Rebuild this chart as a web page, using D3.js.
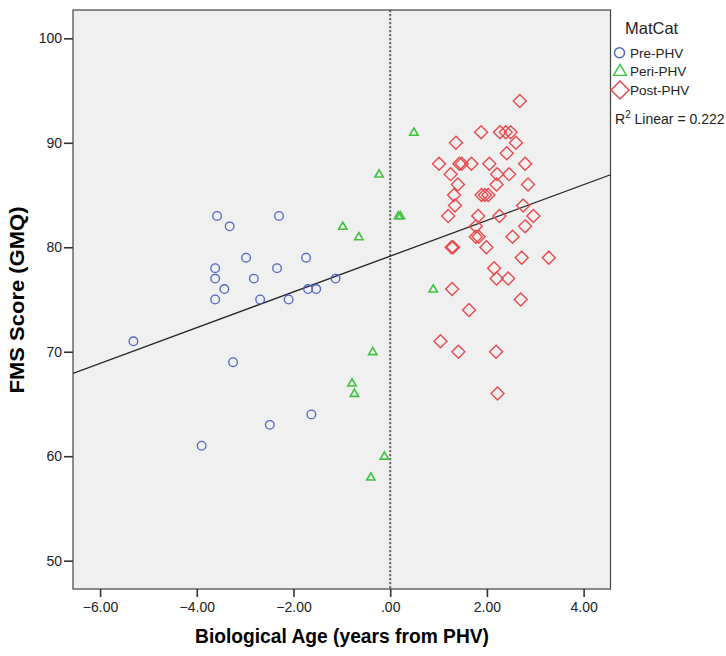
<!DOCTYPE html>
<html><head><meta charset="utf-8">
<script src="https://cdn.jsdelivr.net/npm/d3@7"></script>
<style>
body{margin:0;background:#fff;}
svg{display:block;font-family:"Liberation Sans",Arial,sans-serif;}
</style></head>
<body><svg id="c" width="726" height="656"></svg>
<script>
// ---- data ----
const preX  = [-3.58,-3.32,-2.30,-2.98,-1.74,-3.62,-2.34,-3.62,-2.82,-1.13,-3.43,-1.70,-1.53,-3.62,-2.69,-2.10,-5.31,-3.25,-1.63,-2.49,-3.90];
const preY  = [83,82,83,79,79,78,78,77,77,77,76,76,76,75,75,75,71,69,64,63,61];
const periX = [-0.23,-0.98,-0.65,0.17,0.21,0.89,-0.36,-0.79,-0.74,-0.12,-0.40,0.49];
const periY = [87,82,81,83,83,76,70,67,66,60,58,91];
const postX = [2.68,1.88,2.27,2.39,2.49,1.36,2.60,2.41,1.01,1.43,1.48,1.68,2.05,2.79,1.25,2.21,2.46,1.40,2.20,2.85,1.32,1.89,1.96,2.03,1.34,2.75,1.20,1.82,2.26,2.96,1.77,2.79,1.77,1.83,2.53,1.27,1.30,1.99,2.72,3.28,2.15,2.20,2.44,1.28,2.70,1.63,1.04,1.41,2.19,2.22];
const postY = [94,91,91,91,91,90,90,89,88,88,88,88,88,88,87,87,87,86,86,86,85,85,85,85,84,84,83,83,83,83,82,82,81,81,81,80,80,80,79,79,78,77,77,76,75,74,71,70,70,66];
const fitIntercept = 79.15, fitSlope = 1.71;
const xTicks = [-6,-4,-2,0,2,4];
const yTicks = [50,60,70,80,90,100];
const legendLabels = ["Pre-PHV","Peri-PHV","Post-PHV"];
const rSquared = "0.222";

const svg = d3.select("#c");
const L=73, R=610.5, T=10, B=589;
const x = d3.scaleLinear().domain([-6.56,4.556]).range([L,R]);
const y = d3.scaleLinear().domain([47.29,102.71]).range([B,T]);

svg.append("rect").attr("x",L).attr("y",T).attr("width",R-L).attr("height",B-T).attr("fill","#f0f0f0");

svg.append("defs").append("clipPath").attr("id","clip").append("rect")
  .attr("x",L).attr("y",T).attr("width",R-L).attr("height",B-T);
const g = svg.append("g").attr("clip-path","url(#clip)");

// reference line at 0
g.append("line").attr("x1",x(0)).attr("x2",x(0)).attr("y1",T).attr("y2",B)
  .attr("stroke","#666").attr("stroke-width",2).attr("stroke-dasharray","2.2,1.8");

// fit line
const xd = x.domain();
g.append("line").attr("x1",x(xd[0])).attr("y1",y(fitIntercept+fitSlope*xd[0]))
  .attr("x2",x(xd[1])).attr("y2",y(fitIntercept+fitSlope*xd[1]))
  .attr("stroke","#222").attr("stroke-width",1.3);

const blue="#4e64c4", green="#3ec23e", red="#ea4a4e";
const triPath = s => `M0,${-s*0.6}L${s*0.58},${s*0.4}L${-s*0.58},${s*0.4}Z`;
const diaPath = s => `M0,${-s}L${s},0L0,${s}L${-s},0Z`;

g.selectAll("circle.pre").data(preX.map((v,i)=>[v,preY[i]])).join("circle")
  .attr("cx",d=>x(d[0])).attr("cy",d=>y(d[1])).attr("r",4.3)
  .attr("fill","none").attr("stroke",blue).attr("stroke-width",1.3);

g.selectAll("path.peri").data(periX.map((v,i)=>[v,periY[i]])).join("path")
  .attr("transform",d=>`translate(${x(d[0])},${y(d[1])})`).attr("d",triPath(7.2))
  .attr("fill","none").attr("stroke",green).attr("stroke-width",1.6);

g.selectAll("path.post").data(postX.map((v,i)=>[v,postY[i]])).join("path")
  .attr("class","post")
  .attr("transform",d=>`translate(${x(d[0])},${y(d[1])})`).attr("d",diaPath(6.5))
  .attr("fill","none").attr("stroke",red).attr("stroke-width",1.4);

// frame
svg.append("rect").attr("x",L).attr("y",T).attr("width",R-L).attr("height",B-T)
  .attr("fill","none").attr("stroke","#444").attr("stroke-width",1.2);

// axes
const fmtX = v => d3.format(".2f")(v).replace(/^0\./,".");
const ax = svg.append("g").attr("transform",`translate(0,${B})`)
  .call(d3.axisBottom(x).tickValues(xTicks).tickFormat(fmtX).tickSize(8).tickPadding(5));
const ay = svg.append("g").attr("transform",`translate(${L},0)`)
  .call(d3.axisLeft(y).tickValues(yTicks).tickFormat(d3.format("d")).tickSize(9).tickPadding(2));
[ax,ay].forEach(a=>{
  a.select(".domain").remove();
  a.selectAll(".tick line").attr("stroke","#333").attr("stroke-width",1.6);
  a.selectAll(".tick text").attr("fill","#222").attr("font-size",14)
    .attr("font-family","'Liberation Sans',Arial,sans-serif");
});

// axis titles
svg.append("text").attr("x",342).attr("y",643).attr("text-anchor","middle")
  .attr("font-size",19.5).attr("font-weight","bold").attr("fill","#000")
  .attr("textLength",294).attr("lengthAdjust","spacingAndGlyphs")
  .text("Biological Age (years from PHV)");
svg.append("text").attr("transform","translate(24,300) rotate(-90)").attr("text-anchor","middle")
  .attr("font-size",20).attr("font-weight","bold").attr("fill","#000")
  .attr("textLength",187).attr("lengthAdjust","spacingAndGlyphs")
  .text("FMS Score (GMQ)");

// legend
svg.append("text").attr("x",625).attr("y",33.5).attr("font-size",16.5).attr("fill","#222").text("MatCat");
const lg = svg.append("g");
lg.append("circle").attr("cx",619.5).attr("cy",52.7).attr("r",5).attr("fill","none").attr("stroke",blue).attr("stroke-width",1.4);
lg.append("path").attr("transform","translate(620,71)").attr("d",triPath(11)).attr("fill","none").attr("stroke",green).attr("stroke-width",1.4);
lg.append("path").attr("transform","translate(620,90)").attr("d",diaPath(9)).attr("fill","none").attr("stroke",red).attr("stroke-width",1.5);
const legY=[58.3,75.8,94.8];
legendLabels.forEach((t,i)=>{
  lg.append("text").attr("x",630).attr("y",legY[i]).attr("font-size",13.5).attr("fill","#222").text(t);
});
const rt = svg.append("text").attr("x",615).attr("y",123.5).attr("font-size",14).attr("fill","#222");
rt.append("tspan").text("R");
rt.append("tspan").attr("font-size",10).attr("dy",-6).text("2");
rt.append("tspan").attr("dy",6).text(" Linear = "+rSquared);
</script></body></html>
